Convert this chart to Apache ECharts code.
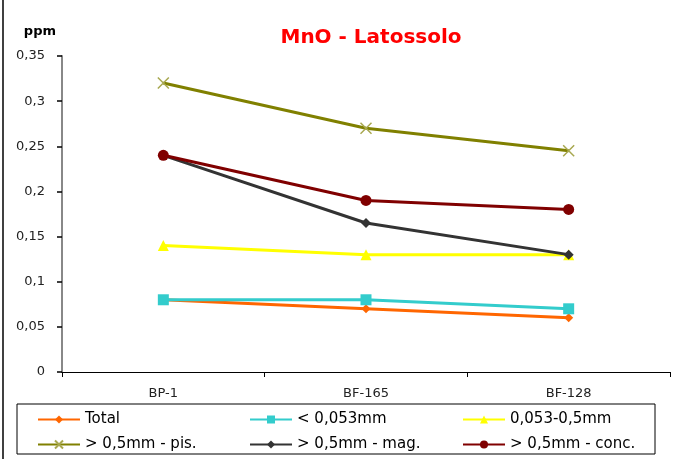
<!DOCTYPE html>
<html>
<head>
<meta charset="utf-8">
<script src="https://cdn.jsdelivr.net/npm/echarts@6/dist/echarts.min.js"></script>
<style>
  html, body { margin: 0; padding: 0; background: #fff; }
  #chart { width: 694px; height: 459px; }
</style>
</head>
<body>
<div id="chart"></div>
<script>
// MnO content by sample point for the Latossolo fractions
const categories = ['BP-1', 'BF-165', 'BF-128'];
const total      = [0.08, 0.07, 0.06];
const fine       = [0.08, 0.08, 0.07];
const medium     = [0.14, 0.13, 0.13];
const coarsePis  = [0.32, 0.27, 0.245];
const coarseMag  = [0.24, 0.165, 0.13];
const coarseConc = [0.24, 0.19, 0.18];

const seriesNames = ['Total', '< 0,053mm', '0,053-0,5mm', '> 0,5mm - pis.', '> 0,5mm - mag.', '> 0,5mm - conc.'];
const yTicks = [0, 0.05, 0.1, 0.15, 0.2, 0.25, 0.3, 0.35];

const FONT = '"DejaVu Sans", "Liberation Sans", Arial, sans-serif';
const crossPath = 'path://M0,0L10,10M10,0L0,10';

function lineSeries(name, data, color, symbol, size, extra) {
  return Object.assign({
    name: name,
    type: 'line',
    data: data,
    symbol: symbol,
    symbolSize: size,
    lineStyle: { color: color, width: 3 },
    itemStyle: { color: color },
    emphasis: { disabled: true },
    z: 3
  }, extra || {});
}

const series = [
  lineSeries(seriesNames[0], total, '#FF6600', 'diamond', 9),
  lineSeries(seriesNames[1], fine, '#33CCCC', 'rect', 11),
  lineSeries(seriesNames[2], medium, '#FFFF00', 'triangle', 11),
  lineSeries(seriesNames[3], coarsePis, '#808000', crossPath, 11, {
    itemStyle: { color: '#808000', borderColor: '#A8A850', borderWidth: 1.5 }
  }),
  lineSeries(seriesNames[4], coarseMag, '#333333', 'diamond', 10),
  lineSeries(seriesNames[5], coarseConc, '#800000', 'circle', 11)
];

// legend laid out in two rows of three entries
const legendCols = [37, 249, 462];
const legendRows = [412, 437];
const legends = seriesNames.map(function (n, i) {
  return {
    data: [n],
    left: legendCols[i % 3],
    top: legendRows[Math.floor(i / 3)],
    itemWidth: 42,
    itemHeight: 10,
    itemGap: 6,
    padding: 0,
    selectedMode: false,
    textStyle: { fontFamily: FONT, fontSize: 15, color: '#000' }
  };
});

const chart = echarts.init(document.getElementById('chart'), null, { renderer: 'canvas' });
chart.setOption({
  animation: false,
  backgroundColor: '#fff',
  title: {
    text: 'MnO - Latossolo',
    left: 366,
    top: 23,
    textAlign: 'center',
    textStyle: { fontFamily: FONT, fontSize: 20, fontWeight: 'bold', color: '#FF0000' }
  },
  legend: legends,
  grid: { left: 62, top: 56, right: 24, bottom: 87 },
  xAxis: {
    type: 'category',
    data: categories,
    boundaryGap: true,
    axisLine: { lineStyle: { color: '#000', width: 1 } },
    axisTick: { show: true, length: 5, lineStyle: { color: '#000' } },
    axisLabel: { fontFamily: FONT, fontSize: 13, color: '#222', margin: 15 }
  },
  yAxis: {
    type: 'value',
    min: yTicks[0],
    max: yTicks[yTicks.length - 1],
    interval: 0.05,
    name: 'ppm',
    nameLocation: 'end',
    nameGap: 24,
    nameTextStyle: {
      fontFamily: FONT, fontSize: 13, fontWeight: 'bold', color: '#000',
      align: 'right', verticalAlign: 'middle', padding: [0, 6, 0, 0]
    },
    splitLine: { show: false },
    axisLine: { show: true, lineStyle: { color: '#888', width: 2 } },
    axisTick: { show: true, length: 5, lineStyle: { color: '#000', width: 1.5 } },
    axisLabel: {
      fontFamily: FONT, fontSize: 13, color: '#222', margin: 17,
      formatter: function (v) { return String(Math.round(v * 100) / 100).replace('.', ','); }
    }
  },
  graphic: [
    { type: 'line', shape: { x1: 3, y1: 0, x2: 3, y2: 459 }, style: { stroke: '#000', lineWidth: 1.5 } },
    { type: 'rect', shape: { x: 17, y: 404, width: 638, height: 50 }, style: { fill: 'none', stroke: '#000', lineWidth: 1 }, z: -1 }
  ],
  series: series
});
</script>
</body>
</html>
